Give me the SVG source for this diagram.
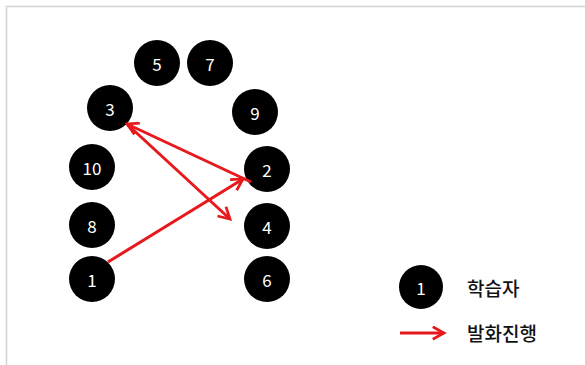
<svg xmlns="http://www.w3.org/2000/svg" width="585" height="365" viewBox="0 0 585 365">
<defs>
<style>
.n circle{fill:#000}
.n text{fill:#fff;font-family:"Noto Sans CJK KR","Liberation Sans",sans-serif;font-size:17px;text-anchor:middle;dominant-baseline:central}
.e{stroke:#e8191c;stroke-width:3;fill:none;marker-end:url(#ah)}
.lg{font-family:"Noto Sans CJK KR",sans-serif;font-size:19px;font-weight:500;fill:#111;dominant-baseline:central}
</style>
<marker id="ah" viewBox="0 0 12 12" refX="10" refY="6" markerWidth="5" markerHeight="5" markerUnits="strokeWidth" orient="auto">
<polyline points="1,1 10,6 1,11" fill="none" stroke="#e8191c" stroke-width="2.2"/>
</marker>
</defs>
<rect x="0" y="0" width="585" height="365" fill="#fff"/>
<path d="M6.5,365 V6.5 H585" fill="none" stroke="#d4d4d4" stroke-width="1.5"/>
<g id="n5" class="n"><circle cx="157" cy="63" r="23"/><text x="157" y="63">5</text></g>
<g id="n7" class="n"><circle cx="210" cy="63" r="23"/><text x="210" y="63">7</text></g>
<g id="n3" class="n"><circle cx="110" cy="108" r="23"/><text x="110" y="108">3</text></g>
<g id="n9" class="n"><circle cx="255" cy="112" r="23"/><text x="255" y="112">9</text></g>
<g id="n10" class="n"><circle cx="92" cy="167" r="23"/><text x="92" y="167">10</text></g>
<g id="n2" class="n"><circle cx="267" cy="169" r="23"/><text x="267" y="169">2</text></g>
<g id="n8" class="n"><circle cx="92" cy="225" r="23"/><text x="92" y="225">8</text></g>
<g id="n4" class="n"><circle cx="267" cy="226" r="23"/><text x="267" y="226">4</text></g>
<g id="n1" class="n"><circle cx="92" cy="279" r="23"/><text x="92" y="279">1</text></g>
<g id="n6" class="n"><circle cx="267" cy="279" r="23"/><text x="267" y="279">6</text></g>
<g id="connectors">
<line class="e" x1="108" y1="262" x2="243" y2="179"/>
<line class="e" x1="251" y1="182" x2="127" y2="124"/>
<line class="e" x1="128" y1="125" x2="230" y2="219"/>
</g>
<g id="legend">
<g id="legend-node" class="n"><circle cx="421" cy="287" r="22"/><text x="421" y="287">1</text></g>
<text class="lg" x="467" y="287">학습자</text>
<line class="e" x1="400" y1="333" x2="444" y2="333"/>
<text class="lg" x="467" y="332">발화진행</text>
</g>
</svg>
